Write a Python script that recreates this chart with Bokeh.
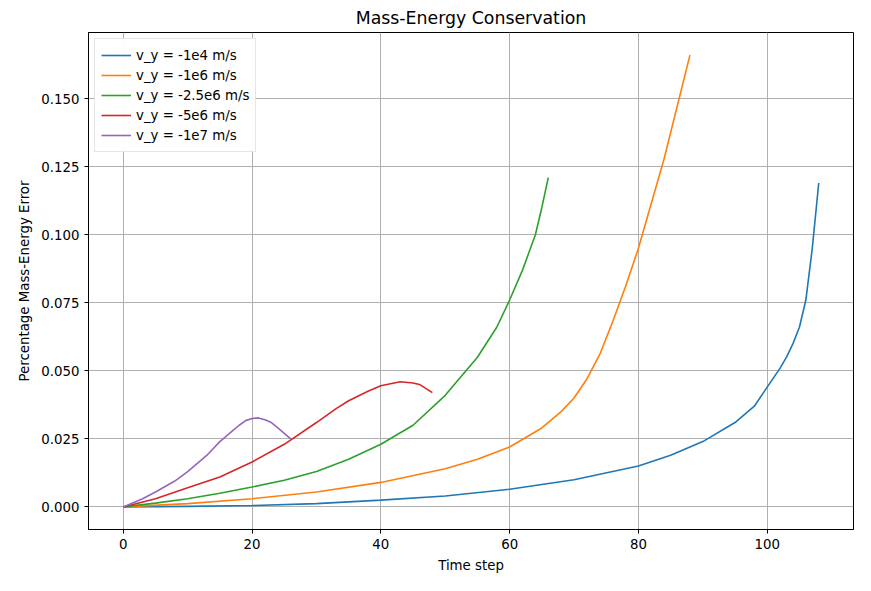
from bokeh.plotting import figure
from bokeh.models import Range1d, FixedTicker, NumeralTickFormatter, Legend
from bokeh.embed import file_html
from bokeh.resources import INLINE

# values
blue_x = [0, 10, 20, 30, 40, 50, 60, 70, 80, 85, 90, 95, 98, 100, 102, 103, 104, 105, 106, 107, 108]
blue_y = [0, 0.0002, 0.0005, 0.0012, 0.0025, 0.004, 0.0065, 0.010, 0.015, 0.019, 0.024, 0.031, 0.037, 0.044, 0.051, 0.055, 0.060, 0.066, 0.076, 0.095, 0.119]
orange_x = [0, 10, 20, 30, 40, 50, 55, 60, 65, 68, 70, 72, 74, 76, 78, 80, 84, 88]
orange_y = [0, 0.0012, 0.003, 0.0055, 0.009, 0.014, 0.0175, 0.022, 0.029, 0.035, 0.040, 0.047, 0.056, 0.068, 0.081, 0.095, 0.128, 0.166]
green_x = [0, 5, 10, 15, 20, 25, 30, 35, 40, 45, 50, 55, 58, 60, 62, 64, 65, 66]
green_y = [0, 0.0014, 0.003, 0.005, 0.0073, 0.0098, 0.013, 0.0175, 0.023, 0.030, 0.041, 0.055, 0.066, 0.076, 0.087, 0.100, 0.110, 0.121]
red_x = [0, 5, 10, 15, 20, 25, 30, 33, 35, 38, 40, 43, 45, 46, 48]
red_y = [0, 0.003, 0.007, 0.011, 0.0165, 0.023, 0.031, 0.036, 0.039, 0.0425, 0.0445, 0.046, 0.0455, 0.045, 0.042]
purple_x = [0, 3, 5, 8, 10, 13, 15, 17, 18, 19, 20, 21, 22, 23, 24, 25, 26]
purple_y = [0, 0.003, 0.0055, 0.0095, 0.013, 0.019, 0.024, 0.028, 0.030, 0.0317, 0.0325, 0.0327, 0.032, 0.031, 0.029, 0.027, 0.025]

series = [
    ("v_y = -1e4 m/s", blue_x, blue_y, "#1f77b4"),
    ("v_y = -1e6 m/s", orange_x, orange_y, "#ff7f0e"),
    ("v_y = -2.5e6 m/s", green_x, green_y, "#2ca02c"),
    ("v_y = -5e6 m/s", red_x, red_y, "#d62728"),
    ("v_y = -1e7 m/s", purple_x, purple_y, "#9467bd"),
]

p = figure(width=855, height=575, output_backend="svg", toolbar_location=None,
           title="Mass-Energy Conservation", x_axis_label="Time step",
           y_axis_label="Percentage Mass-Energy Error",
           x_range=Range1d(-5.4, 113.4), y_range=Range1d(-0.0083, 0.1743))
p.title.align = "center"
p.title.text_font = "DejaVu Sans"
p.title.text_font_style = "normal"
p.title.text_font_size = "13pt"
p.title.text_color = "black"

items = []
for name, xs, ys, c in series:
    r = p.line(xs, ys, color=c, line_width=1.6)
    items.append((name, [r]))

leg = Legend(items=items, location="top_left")
leg.label_text_font = "DejaVu Sans"
leg.label_text_font_size = "10pt"
leg.label_text_color = "black"
leg.spacing = 0
leg.padding = 6
leg.glyph_width = 30
leg.border_line_color = "#cccccc"
leg.label_height = 14
leg.margin = 6
p.add_layout(leg)

p.xaxis.ticker = FixedTicker(ticks=[0, 20, 40, 60, 80, 100])
p.yaxis.ticker = FixedTicker(ticks=[0, 0.025, 0.05, 0.075, 0.1, 0.125, 0.15])
p.yaxis.formatter = NumeralTickFormatter(format="0.000")
for ax in [p.xaxis[0], p.yaxis[0]]:
    ax.axis_label_text_font = "DejaVu Sans"
    ax.axis_label_text_font_style = "normal"
    ax.axis_label_text_font_size = "10pt"
    ax.axis_label_text_color = "black"
    ax.major_label_text_font = "DejaVu Sans"
    ax.major_label_text_font_size = "10pt"
    ax.major_label_text_color = "black"
    ax.minor_tick_line_color = None
    ax.major_tick_in = 0
    ax.major_tick_out = 4
    ax.axis_label_standoff = 6
p.grid.grid_line_color = "#b0b0b0"
p.grid.grid_line_alpha = 1
p.outline_line_color = "black"
p.min_border_left = 88
p.min_border_right = 2
p.min_border_bottom = 40

open("out.html", "w").write(file_html(p, INLINE))
